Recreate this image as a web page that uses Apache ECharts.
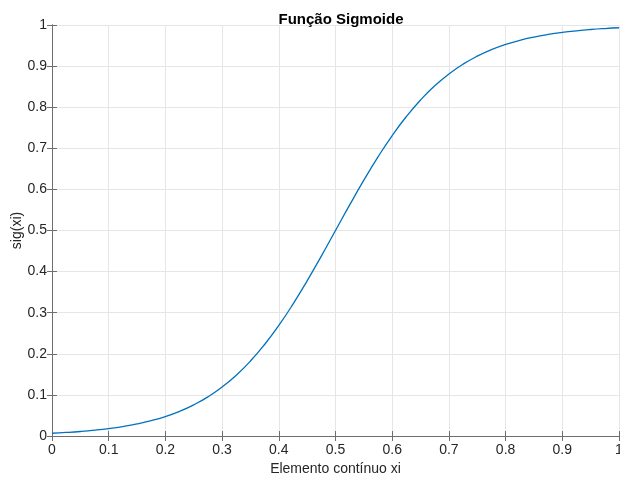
<!DOCTYPE html>
<html>
<head>
<meta charset="utf-8">
<script src="https://cdn.jsdelivr.net/npm/echarts@6/dist/echarts.min.js"></script>
<style>
  html, body { margin: 0; padding: 0; background: #fff; }
  #chart { width: 620px; height: 477px; }
</style>
</head>
<body>
<div id="chart"></div>
<script>
// valores
const xValues = [
  0, 0.025, 0.05, 0.075, 0.1, 0.125, 0.15, 0.175, 0.2, 0.225,
  0.25, 0.275, 0.3, 0.325, 0.35, 0.375, 0.4, 0.425, 0.45, 0.475,
  0.5, 0.525, 0.55, 0.575, 0.6, 0.625, 0.65, 0.675, 0.7, 0.725,
  0.75, 0.775, 0.8, 0.825, 0.85, 0.875, 0.9, 0.925, 0.95, 0.975, 1
];
const sigValues = [
  0.0067, 0.0086, 0.011, 0.0141, 0.018, 0.023, 0.0293, 0.0373, 0.0474, 0.0601,
  0.0759, 0.0953, 0.1192, 0.148, 0.1824, 0.2227, 0.2689, 0.3208, 0.3775, 0.4378,
  0.5, 0.5622, 0.6225, 0.6792, 0.7311, 0.7773, 0.8176, 0.852, 0.8808, 0.9047,
  0.9241, 0.9399, 0.9526, 0.9627, 0.9707, 0.977, 0.982, 0.9859, 0.989, 0.9914, 0.9933
];
const tickLabels = ["0", "0.1", "0.2", "0.3", "0.4", "0.5", "0.6", "0.7", "0.8", "0.9", "1"];

const axisColor = "#6e6e6e";
const font = "'Liberation Sans', Arial, sans-serif";

const myChart = echarts.init(document.getElementById("chart"));

// eixo base (comum a x e y)
const baseAxis = {
  type: "value",
  min: 0,
  max: 1,
  interval: 0.1,
  axisLine: { show: true, lineStyle: { color: axisColor, width: 1 } },
  axisTick: { show: true, inside: true, length: 5, lineStyle: { color: axisColor } },
  splitLine: { show: false },
  axisLabel: { show: false }
};

const labelStyle = {
  show: true,
  color: "#262626",
  fontSize: 14,
  fontFamily: font,
  formatter: (v) => tickLabels[Math.round(v * 10)]
};

const option = {
  animation: false,
  title: {
    text: "Função Sigmoide",
    left: 336,
    top: 7,
    textAlign: "center",
    textStyle: { fontSize: 15, fontWeight: "bold", color: "#000", fontFamily: font }
  },
  grid: {
    left: 52, right: 1, top: 25, bottom: 41,
    containLabel: false,
    outerBoundsMode: "none"
  },
  xAxis: [
    Object.assign({}, baseAxis, {
      position: "bottom",
      name: "Elemento contínuo xi",
      nameLocation: "middle",
      nameGap: 26,
      nameMoveOverlap: false,
      nameTextStyle: { fontSize: 14, color: "#262626", fontFamily: font },
      axisLabel: Object.assign({}, labelStyle, { margin: 7 }),
      splitLine: { show: true, lineStyle: { color: "#e6e6e6", width: 1 } }
    }),
    Object.assign({}, baseAxis, { position: "top" })
  ],
  yAxis: [
    Object.assign({}, baseAxis, {
      position: "left",
      name: "sig(xi)",
      nameLocation: "middle",
      nameGap: 28,
      nameMoveOverlap: false,
      nameTextStyle: { fontSize: 14, color: "#262626", fontFamily: font },
      axisLabel: Object.assign({}, labelStyle, { margin: 5 }),
      splitLine: { show: true, lineStyle: { color: "#e6e6e6", width: 1 } }
    }),
    Object.assign({}, baseAxis, { position: "right" })
  ],
  series: [
    {
      type: "line",
      data: xValues.map((x, i) => [x, sigValues[i]]),
      smooth: true,
      showSymbol: false,
      lineStyle: { color: "#0072BD", width: 1.3 },
      xAxisIndex: 0,
      yAxisIndex: 0
    }
  ]
};

myChart.setOption(option);
</script>
</body>
</html>
